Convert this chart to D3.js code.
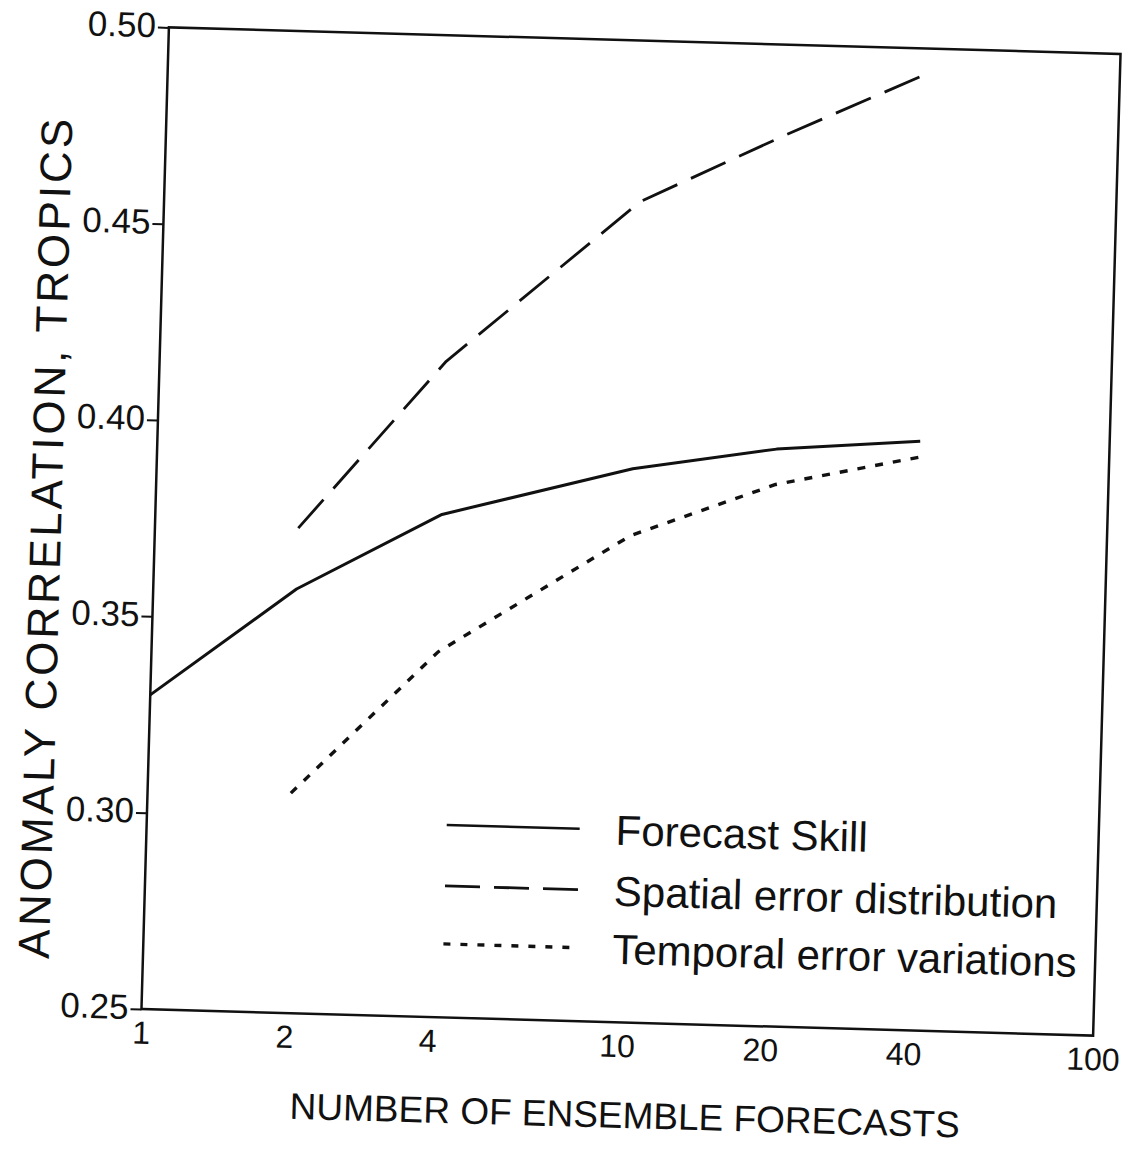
<!DOCTYPE html>
<html>
<head>
<meta charset="utf-8">
<script src="https://cdn.jsdelivr.net/npm/d3@7"></script>
<style>
  html, body { margin: 0; padding: 0; background: #fff; }
  svg { display: block; }
  text { font-family: "Liberation Sans", Arial, Helvetica, sans-serif; fill: #111; }
</style>
</head>
<body>
<svg id="chart" width="1131" height="1154"></svg>
<script>
// ---- data ----
const ensembleSizes = [1, 2, 4, 10, 20, 40];
const forecastSkill = [0.330, 0.358, 0.378, 0.391, 0.397, 0.400];
const spatialSizes = [2, 4, 10, 20, 40];
const spatialError = [0.3735, 0.417, 0.459, 0.477, 0.494];
const temporalSizes = [2, 4, 10, 20, 40];
const temporalError = [0.306, 0.343, 0.374, 0.388, 0.396];
const xTicks = [1, 2, 4, 10, 20, 40, 100];
const yTicks = [0.25, 0.30, 0.35, 0.40, 0.45, 0.50];
const seriesNames = ["Forecast Skill", "Spatial error distribution", "Temporal error variations"];
const xTitle = "NUMBER OF ENSEMBLE FORECASTS";
const yTitle = "ANOMALY CORRELATION, TROPICS";

// ---- layout ----
const plotL = 155, plotR = 1107, plotT = 40.5, plotB = 1022.5;
const styles = [
  { width: 3, dash: null },
  { width: 2.8, dash: "38,15" },
  { width: 3.4, dash: "8,10" }
];

const svg = d3.select("#chart");
// the scanned figure is slightly rotated
const g = svg.append("g").attr("transform", "rotate(1.6, 631, 531.5)");

const x = d3.scaleLog().domain([1, 100]).range([plotL, plotR]);
const y = d3.scaleLinear().domain([0.25, 0.50]).range([plotB, plotT]);

// frame
g.append("rect")
  .attr("x", plotL).attr("y", plotT)
  .attr("width", plotR - plotL).attr("height", plotB - plotT)
  .attr("fill", "none").attr("stroke", "#111").attr("stroke-width", 2.5);

// y axis
const yAxis = g.append("g")
  .attr("transform", `translate(${plotL},0)`)
  .call(d3.axisLeft(y).tickValues(yTicks).tickFormat(d3.format(".2f")).tickSize(11).tickPadding(2));
yAxis.select(".domain").remove();
yAxis.selectAll(".tick line").attr("stroke", "#111").attr("stroke-width", 2);
yAxis.selectAll(".tick text")
  .attr("font-size", 35).attr("dy", "0.28em")
  .style("font-family", "'Liberation Sans', Arial, sans-serif").attr("fill", "#111");

// x axis
const xAxis = g.append("g")
  .attr("transform", `translate(0,${plotB})`)
  .call(d3.axisBottom(x).tickValues(xTicks).tickFormat(d3.format("d")).tickSize(0).tickPadding(12));
xAxis.select(".domain").remove();
xAxis.selectAll(".tick text")
  .attr("font-size", 32)
  .style("font-family", "'Liberation Sans', Arial, sans-serif").attr("fill", "#111");

// axis titles
g.append("text")
  .attr("x", 641).attr("y", 1128)
  .attr("text-anchor", "middle")
  .attr("font-size", 37)
  .text(xTitle);

g.append("text")
  .attr("transform", `translate(61,555) rotate(-90)`)
  .attr("text-anchor", "middle")
  .attr("font-size", 44)
  .attr("textLength", 840)
  .attr("lengthAdjust", "spacing")
  .text(yTitle);

// lines
const line = d3.line().x(d => x(d[0])).y(d => y(d[1]));
const series = [
  d3.zip(ensembleSizes, forecastSkill),
  d3.zip(spatialSizes, spatialError),
  d3.zip(temporalSizes, temporalError)
];
series.forEach((s, i) => {
  g.append("path")
    .datum(s)
    .attr("d", line)
    .attr("fill", "none")
    .attr("stroke", "#111")
    .attr("stroke-width", styles[i].width)
    .attr("stroke-dasharray", styles[i].dash)
    .attr("stroke-linejoin", "round");
});

// legend
const legendY = [830, 891, 949];
seriesNames.forEach((name, i) => {
  g.append("line")
    .attr("x1", 455).attr("x2", 588)
    .attr("y1", legendY[i]).attr("y2", legendY[i])
    .attr("stroke", "#111")
    .attr("stroke-width", i === 0 ? 2.5 : styles[i].width)
    .attr("stroke-dasharray", i === 1 ? "35,14" : (i === 2 ? "7,10" : null));
  g.append("text")
    .attr("x", 624).attr("y", legendY[i])
    .attr("dy", "0.36em")
    .attr("font-size", 42)
    .text(name);
});
</script>
</body>
</html>
